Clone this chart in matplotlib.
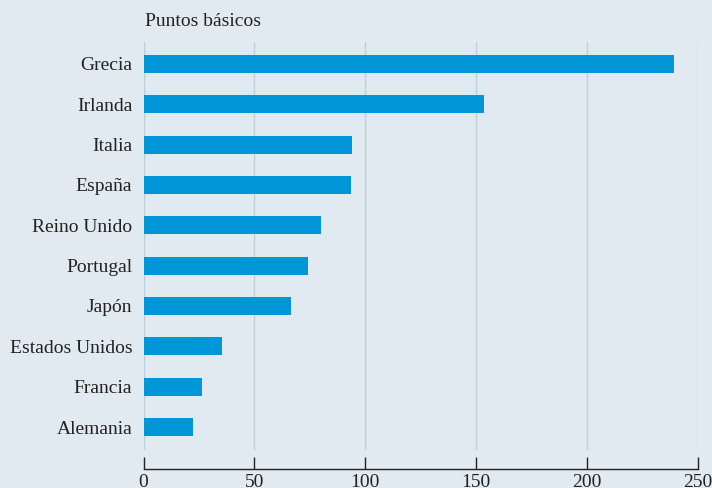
import matplotlib
matplotlib.use('Agg')
import matplotlib.pyplot as plt
import numpy as np

# data (basis points)
countries = ['Grecia', 'Irlanda', 'Italia', 'España', 'Reino Unido',
             'Portugal', 'Japón', 'Estados Unidos', 'Francia', 'Alemania']
values = [239, 153.5, 94, 93.5, 80, 74, 66.5, 35.5, 26.5, 22.5]
xticks = [0, 50, 100, 150, 200, 250]

bg = '#e1eaf0'
bar_color = '#0096d8'
grid_color = '#bccfdb'

plt.rcParams['font.family'] = ['Liberation Serif', 'DejaVu Serif']

fig = plt.figure(figsize=(7.12, 4.88), dpi=100, facecolor=bg)
W, H = 712, 488
ax = fig.add_axes([143.5 / W, 1 - 450 / H, (698 - 143.5) / W, (450 - 42) / H])
ax.set_facecolor(bg)

ypos = np.arange(len(countries))[::-1]
ax.barh(ypos, values, height=0.45, color=bar_color, zorder=3)

ax.set_xlim(0, 250)
ax.set_ylim(-0.57, 9.545)
ax.set_xticks(xticks)
ax.set_yticks(ypos)
ax.set_yticklabels(countries)

for x in xticks:
    ax.axvline(x, color=grid_color, lw=1.0, zorder=1)

for s in ['top', 'right', 'left']:
    ax.spines[s].set_visible(False)
ax.spines['bottom'].set_position(('outward', 14))
ax.spines['bottom'].set_color('#222222')
ax.spines['bottom'].set_linewidth(1.0)

ax.tick_params(axis='x', direction='in', length=8.5, width=1.0, color='#222222',
               labelsize=14, labelcolor='#222222', pad=3)
ax.tick_params(axis='y', length=0, labelsize=14, labelcolor='#222222', pad=8)

fig.text(145 / W, 1 - 21 / H, 'Puntos básicos', fontsize=14, color='#222222',
         ha='left', va='center')

fig.savefig('out.png', dpi=100, facecolor=bg)
